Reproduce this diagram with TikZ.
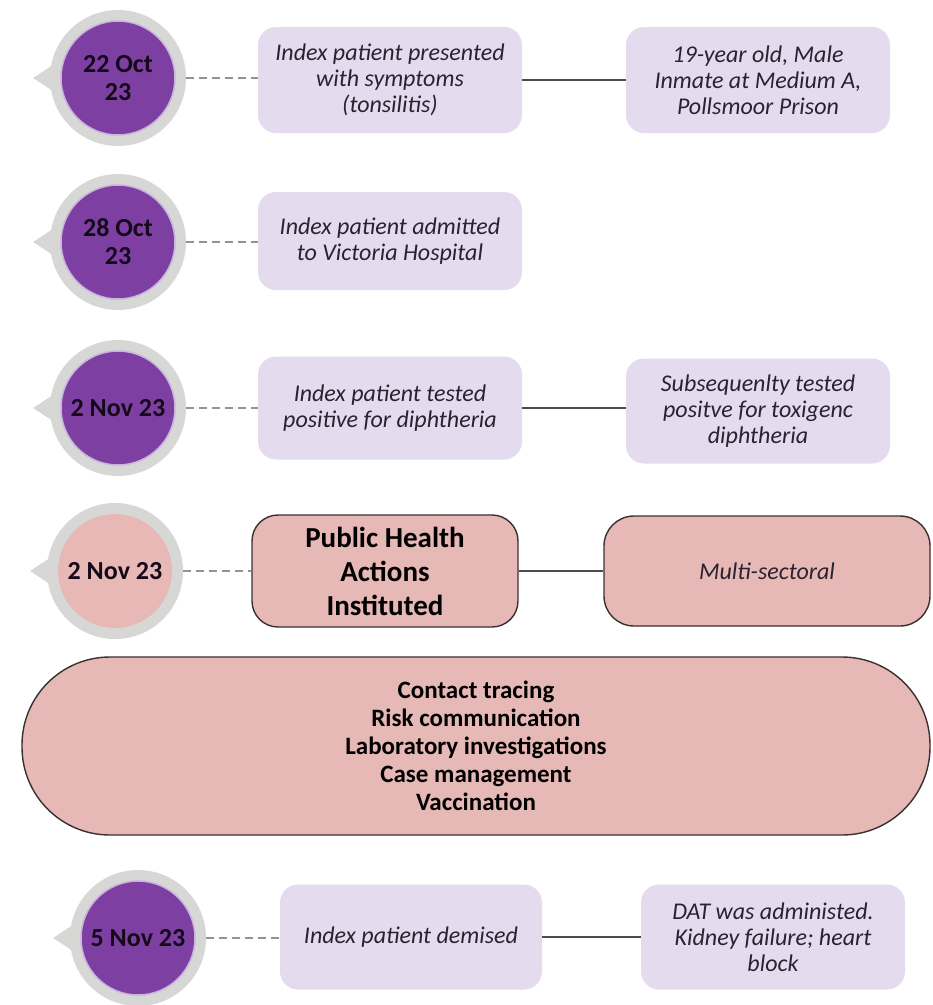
\documentclass[tikz,border=0pt]{standalone}
\usepackage{fontspec}
\setmainfont{Carlito}
\usetikzlibrary{positioning,calc}
\definecolor{ringgray}{HTML}{D7D8D6}
\definecolor{datepurple}{HTML}{7E3FA3}
\definecolor{datepink}{HTML}{E8B8B6}
\definecolor{lav}{HTML}{E5DBEE}
\definecolor{lavline}{HTML}{C9B3DD}
\definecolor{pinkbox}{HTML}{E6B8B6}
\definecolor{darkline}{HTML}{3A3030}
\definecolor{txt}{HTML}{2A2230}
\tikzset{
  ring/.style={circle, fill=ringgray, minimum size=136pt, inner sep=0pt},
  datep/.style={circle, fill=datepurple, draw=lavline, line width=1.5pt, minimum size=114pt, inner sep=0pt, align=center, text=black!85!datepurple, font=\fontsize{26}{28}\selectfont\bfseries},
  datek/.style={datep, fill=datepink, draw=none},
  lavbox/.style={rectangle, rounded corners=18pt, fill=lav, align=center, text=txt, inner sep=0pt, font=\fontsize{24}{26}\selectfont\itshape},
  pinkbx/.style={rectangle, rounded corners=24pt, fill=pinkbox, draw=darkline, line width=1.4pt, align=center, text=black, inner sep=0pt},
  dashconn/.style={draw=gray!85, line width=1.6pt, dash pattern=on 8pt off 5pt},
  solidconn/.style={draw=black!70, line width=1.6pt},
}
\begin{document}
\begin{tikzpicture}[x=1pt,y=-1pt]
\useasboundingbox (0,0) rectangle (933,1005);
\fill[white] (0,0) rectangle (933,1005);

% pointers
\foreach \cx/\cy in {118/78, 118/242, 118/408, 115/571, 138/938}{
  \fill[ringgray] (\cx-85,\cy) -- (\cx-62,\cy-15) -- (\cx-62,\cy+15) -- cycle;
}

% rings and dates
\node[ring] (r1) at (118,78) {};
\node[datep] (d1) at (r1) {22 Oct\\23};
\node[ring] (r2) at (118,242) {};
\node[datep] (d2) at (r2) {28 Oct\\23};
\node[ring] (r3) at (118,408) {};
\node[datep] (d3) at (r3) {2 Nov 23};
\node[ring] (r4) at (115,571) {};
\node[datek] (d4) at (r4) {2 Nov 23};
\node[ring] (r6) at (138,938) {};
\node[datep] (d6) at (r6) {5 Nov 23};

% boxes
\node[lavbox, minimum width=264pt, minimum height=106pt] (a1) at (390,80) {Index patient presented\\with symptoms\\(tonsilitis)};
\node[lavbox, minimum width=264pt, minimum height=106pt] (b1) at (758,80) {19-year old, Male\\Inmate at Medium A,\\Pollsmoor Prison};
\node[lavbox, minimum width=264pt, minimum height=98pt] (a2) at (390,241) {Index patient admitted\\to Victoria Hospital};
\node[lavbox, minimum width=264pt, minimum height=103pt] (a3) at (390,408) {Index patient tested\\positive for diphtheria};
\node[lavbox, minimum width=264pt, minimum height=105pt] (b3) at (758,411) {Subsequenlty tested\\positve for toxigenc\\diphtheria};
\node[pinkbx, rounded corners=26pt, minimum width=266pt, minimum height=112pt, font=\fontsize{29}{34}\selectfont\bfseries] (a4) at (385,571) {Public Health\\Actions\\Instituted};
\node[pinkbx, rounded corners=30pt, minimum width=326pt, minimum height=110pt, font=\fontsize{24}{26}\selectfont\itshape, text=txt] (b4) at (767,571) {Multi-sectoral};
\node[pinkbx, rounded corners=88pt, minimum width=908pt, minimum height=178pt, font=\fontsize{25}{28}\selectfont\bfseries] (p5) at (476,746) {Contact tracing\\Risk communication\\Laboratory investigations\\Case management\\Vaccination};
\node[lavbox, minimum width=262pt, minimum height=105pt] (a6) at (411,937) {Index patient demised};
\node[lavbox, minimum width=264pt, minimum height=105pt] (b6) at (773,937) {DAT was administed.\\Kidney failure; heart\\block};

% connectors
\draw[dashconn] (r1.east) -- (r1.east -| a1.west);
\draw[dashconn] (r2.east) -- (r2.east -| a2.west);
\draw[dashconn] (r3.east) -- (r3.east -| a3.west);
\draw[dashconn] (r4.east) -- (r4.east -| a4.west);
\draw[dashconn] (r6.east) -- (r6.east -| a6.west);
\draw[solidconn] (a1.east) -- (a1.east -| b1.west);
\draw[solidconn] (a3.east) -- (a3.east -| b3.west);
\draw[solidconn] (a4.east) -- (a4.east -| b4.west);
\draw[solidconn] (a6.east) -- (a6.east -| b6.west);
\end{tikzpicture}
\end{document}
